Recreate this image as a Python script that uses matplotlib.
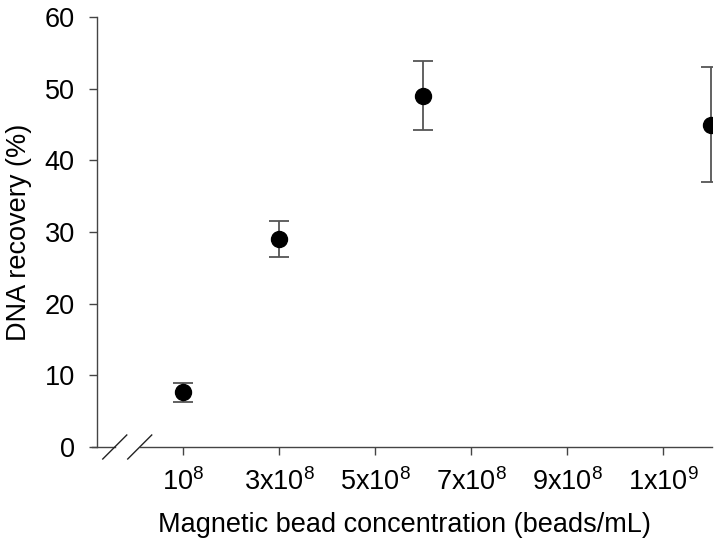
import matplotlib
matplotlib.use("Agg")
import matplotlib.pyplot as plt

plt.rcParams['font.family'] = ['Liberation Sans', 'DejaVu Sans']
plt.rcParams['mathtext.default'] = 'regular'

# data (x in units of 1e8 beads/mL)
conc = [1, 3, 6, 12]
recovery = [7.7, 29.0, 49.0, 45.0]
err_low = [6.3, 26.5, 44.2, 37.0]
err_high = [9.0, 31.5, 53.8, 53.0]
xtick_pos = [1, 3, 5, 7, 9, 11]
xtick_labels = ['$10^8$', '3x$10^8$', '5x$10^8$', '7x$10^8$', '9x$10^8$', '1x$10^9$']
ytick_vals = [0, 10, 20, 30, 40, 50, 60]

yerr = [[r - l for r, l in zip(recovery, err_low)],
        [h - r for r, h in zip(recovery, err_high)]]

fig = plt.figure(figsize=(7.26, 5.49), dpi=100)
ax = fig.add_axes([97/726, 1 - 447/549, (712 - 97)/726, (447 - 17)/549])

ax.errorbar(conc, recovery, yerr=yerr, fmt='o', color='black', markersize=11.5,
            ecolor='#555555', elinewidth=1.3, capsize=7, capthick=1.3, zorder=3)

xmin, xmax = -0.79, 12.02
ax.set_xlim(xmin, xmax)
ax.set_ylim(0, 60)
ax.set_yticks(ytick_vals)
ax.set_xticks(xtick_pos)
ax.set_xticklabels(xtick_labels)

for s in ['top', 'right']:
    ax.spines[s].set_visible(False)
ax.spines['left'].set_color('#444444')
ax.spines['bottom'].set_color('#444444')
ax.spines['left'].set_linewidth(1.0)
ax.spines['bottom'].set_linewidth(1.0)

# axis break: bottom spine from second slash on, plus short segment before first slash
b1, b2 = -0.42, 0.10
ax.spines['bottom'].set_bounds(b2, xmax)
ax.plot([xmin - 0.1, b1], [0, 0], color='#444444', lw=1.0, clip_on=False, zorder=2)
for bx in (b1, b2):
    ax.plot([bx - 12/615*(xmax - xmin), bx + 12/615*(xmax - xmin)],
            [-12/430*60, 12/430*60], color='#222222', lw=1.0, clip_on=False)

fs = 19.5
ax.tick_params(axis='both', labelsize=fs, colors='#444444', labelcolor='black',
               length=6, width=1.0, direction='out')
ax.tick_params(axis='y', pad=10)
ax.tick_params(axis='x', pad=9)

ax.set_xlabel('Magnetic bead concentration (beads/mL)', fontsize=fs, labelpad=12)
ax.set_ylabel('DNA recovery (%)', fontsize=fs, labelpad=9)

fig.savefig('out.png', dpi=100)
